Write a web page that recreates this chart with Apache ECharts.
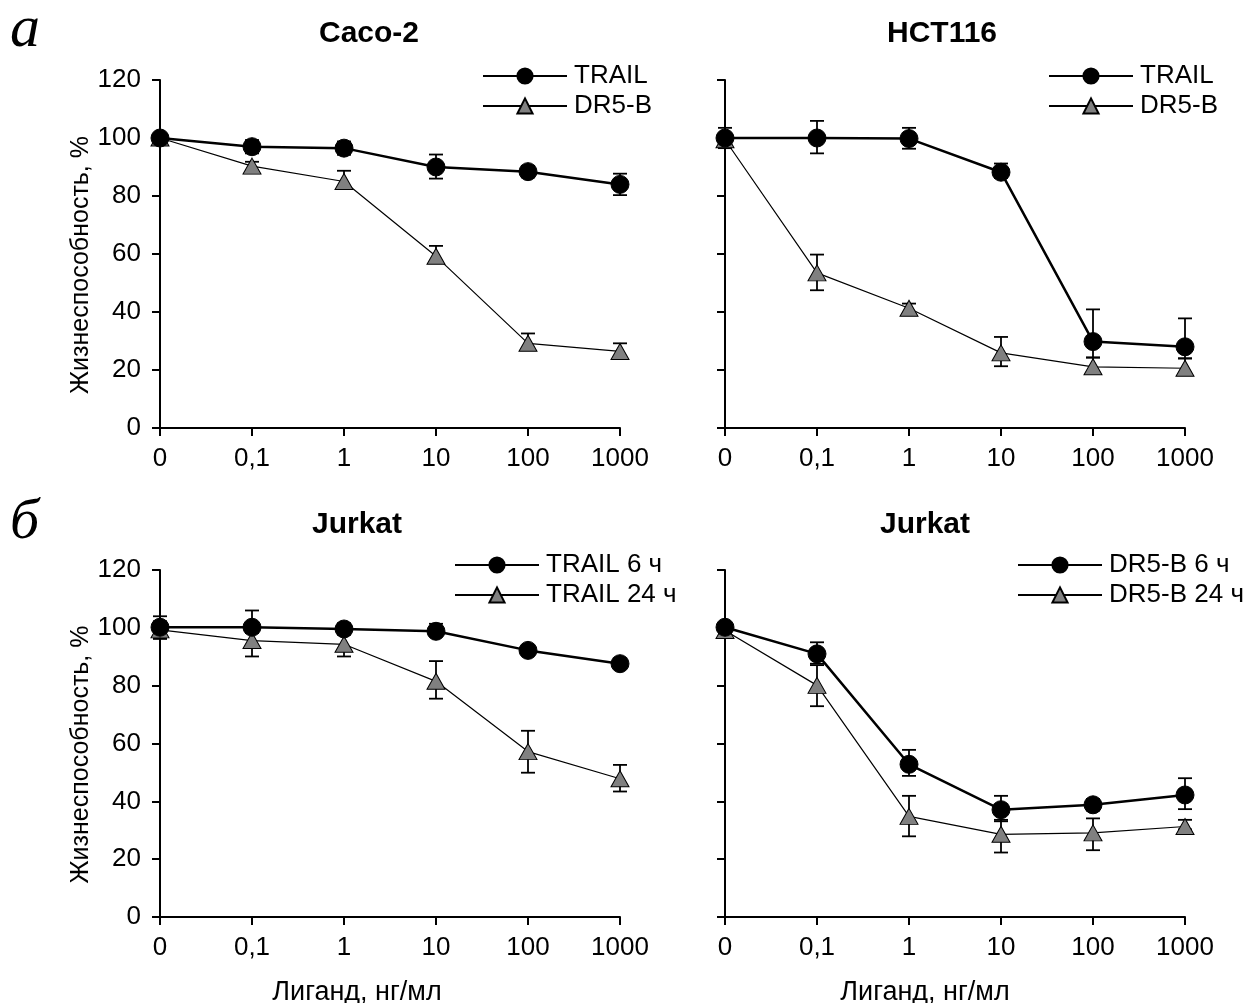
<!DOCTYPE html>
<html>
<head>
<meta charset="utf-8">
<script src="https://cdn.jsdelivr.net/npm/echarts@6/dist/echarts.min.js"></script>
<style>
html,body{margin:0;padding:0;background:#fff;}
#chart{width:1250px;height:1003px;}
</style>
</head>
<body>
<div id="chart"></div>
<script>
// ---------- DATA ----------
const doses = ['0', '0,1', '1', '10', '100', '1000'];
const yTickMin = 0, yTickMax = 120, yTickStep = 20;

// Panel а, Caco-2
const caco2Trail     = [100, 97, 96.5, 90, 88.4, 84];
const caco2TrailUp   = [1, 2.3, 2.3, 4.3, 2, 3.7];
const caco2TrailDown = [1, 2.3, 2.3, 4, 2, 3.7];
const caco2Dr5b      = [100, 90.3, 85, 59.2, 29.2, 26.4];
const caco2Dr5bUp    = [1, 1.5, 3.7, 3.6, 3.4, 2.8];
const caco2Dr5bDown  = [1, 1.5, 0, 0, 0, 0];

// Panel а, HCT116
const hctTrail       = [100, 100, 99.8, 88.2, 29.8, 28];
const hctTrailUp     = [3.5, 5.9, 3.7, 3, 11.1, 9.8];
const hctTrailDown   = [3.5, 5.3, 3.5, 2, 5.5, 4];
const hctDr5b        = [99.4, 53.5, 41.3, 25.9, 21.1, 20.6];
const hctDr5bUp      = [1, 6.3, 1.6, 5.5, 3.2, 3.4];
const hctDr5bDown    = [1, 6, 1.6, 4.6, 0, 0];

// Panel б, Jurkat TRAIL
const jurTrail6      = [100.2, 100.2, 99.6, 98.8, 92.2, 87.6];
const jurTrail6Up    = [3.8, 5.8, 2, 2.6, 1.5, 1];
const jurTrail6Down  = [4, 2, 2, 1.5, 1.5, 1];
const jurTrail24     = [99.3, 95.6, 94.3, 81.5, 57.2, 47.8];
const jurTrail24Up   = [3, 5.5, 4, 7, 7.2, 4.8];
const jurTrail24Down = [3, 5.5, 4.2, 6, 7.3, 4.4];

// Panel б, Jurkat DR5-B
const jurDr6         = [100.2, 91, 52.8, 37.1, 38.8, 42.2];
const jurDr6Up       = [1, 4, 5, 4.8, 2, 5.8];
const jurDr6Down     = [1, 3.4, 4, 4, 2, 4.9];
const jurDr24        = [99.1, 80.1, 34.8, 28.6, 29.1, 31.3];
const jurDr24Up      = [1, 7, 7.1, 5, 5, 2.3];
const jurDr24Down    = [1, 7.2, 6.9, 6.3, 6, 1];

// ---------- CHART ----------
const FONT = 'Liberation Sans, Arial, sans-serif';
const FS = 26;

const grids = [
  {left: 160, top: 80, width: 460, height: 348},
  {left: 725, top: 80, width: 460, height: 348},
  {left: 160, top: 570, width: 460, height: 347},
  {left: 725, top: 570, width: 460, height: 347}
];

function xAxisFor(i) {
  return {
    type: 'category', gridIndex: i, data: doses, boundaryGap: false,
    axisLine: {lineStyle: {color: '#000', width: 2}},
    axisTick: {length: 8, lineStyle: {color: '#000', width: 2}},
    axisLabel: {color: '#000', fontSize: FS, fontFamily: FONT, margin: 18}
  };
}
function yAxisFor(i, withLabels) {
  const ax = {
    type: 'value', gridIndex: i, min: yTickMin, max: yTickMax, interval: yTickStep,
    splitLine: {show: false},
    axisLine: {show: true, lineStyle: {color: '#000', width: 2}},
    axisTick: {show: true, length: 8, lineStyle: {color: '#000', width: 2}},
    axisLabel: {show: withLabels, color: '#000', fontSize: FS, fontFamily: FONT, margin: 19}
  };
  if (withLabels) {
    ax.name = 'Жизнеспособность, %';
    ax.nameLocation = 'middle';
    ax.nameRotate = 90;
    ax.nameGap = 66;
    ax.nameTextStyle = {color: '#000', fontSize: 25, fontFamily: FONT, padding: [0, 22, 0, 0]};
  }
  return ax;
}

function lineSeries(name, gi, vals, thick) {
  return {
    type: 'line', name: name, xAxisIndex: gi, yAxisIndex: gi, data: vals,
    z: 3,
    symbol: thick ? 'circle' : 'triangle',
    symbolSize: thick ? 18 : [18, 16],
    lineStyle: {color: '#000', width: thick ? 2.5 : 1.2},
    itemStyle: thick ? {color: '#000', borderColor: '#000', borderWidth: 1}
                     : {color: '#808080', borderColor: '#000', borderWidth: 1},
    emphasis: {disabled: true},
    animation: false
  };
}

function errRender(params, api) {
  const x = api.value(0), y = api.value(1), up = api.value(2), dn = api.value(3);
  const top = api.coord([x, y + up]);
  const bot = api.coord([x, y - dn]);
  const hw = 7;
  const st = {stroke: '#000', lineWidth: 1.8};
  const ch = [{type: 'line', shape: {x1: top[0], y1: top[1], x2: bot[0], y2: bot[1]}, style: st}];
  if (up > 0) ch.push({type: 'line', shape: {x1: top[0] - hw, y1: top[1], x2: top[0] + hw, y2: top[1]}, style: st});
  if (dn > 0) ch.push({type: 'line', shape: {x1: bot[0] - hw, y1: bot[1], x2: bot[0] + hw, y2: bot[1]}, style: st});
  return {type: 'group', children: ch};
}
function errSeries(gi, vals, up, dn) {
  return {
    type: 'custom', xAxisIndex: gi, yAxisIndex: gi, z: 2,
    renderItem: errRender, silent: true, animation: false,
    encode: {x: 0, y: 1},
    data: vals.map((v, i) => [i, v, up[i], dn[i]])
  };
}

function legendFor(left, top, names) {
  return {
    left: left, top: top, orient: 'vertical', itemWidth: 84, itemHeight: 19, itemGap: 4,
    data: names, selectedMode: false,
    textStyle: {color: '#000', fontSize: FS, fontFamily: FONT, padding: [0, 0, 0, 2]}
  };
}

function titleAt(text, x, y, bold, size) {
  return {text: text, left: x, top: y, textAlign: 'center', padding: 0,
          textStyle: {color: '#000', fontSize: size, fontFamily: FONT, fontWeight: bold ? 'bold' : 'normal'}};
}

const SERIF = 'Liberation Serif, Times New Roman, serif';
const option = {
  backgroundColor: '#fff',
  animation: false,
  title: [
    titleAt('Caco-2', 369, 19, true, 30),
    titleAt('HCT116', 942, 19, true, 30),
    titleAt('Jurkat', 357, 510, true, 30),
    titleAt('Jurkat', 925, 510, true, 30),
    titleAt('Лиганд, нг/мл', 357, 979, false, 27),
    titleAt('Лиганд, нг/мл', 925, 979, false, 27),
    {text: 'а', left: 10, top: 0, padding: 0,
     textStyle: {color: '#000', fontSize: 60, fontFamily: SERIF, fontStyle: 'italic', fontWeight: 'normal'}},
    {text: 'б', left: 10, top: 494, padding: 0,
     textStyle: {color: '#000', fontSize: 58, fontFamily: SERIF, fontStyle: 'italic', fontWeight: 'normal'}}
  ],
  legend: [
    legendFor(477, 58, ['TRAIL', 'DR5-B']),
    legendFor(1043, 58, ['TRAIL', 'DR5-B']),
    legendFor(449, 547, ['TRAIL 6 ч', 'TRAIL 24 ч']),
    legendFor(1012, 547, ['DR5-B 6 ч', 'DR5-B 24 ч'])
  ],
  grid: grids,
  xAxis: [xAxisFor(0), xAxisFor(1), xAxisFor(2), xAxisFor(3)],
  yAxis: [yAxisFor(0, true), yAxisFor(1, false), yAxisFor(2, true), yAxisFor(3, false)],
  series: [
    errSeries(0, caco2Trail, caco2TrailUp, caco2TrailDown),
    errSeries(0, caco2Dr5b, caco2Dr5bUp, caco2Dr5bDown),
    lineSeries('DR5-B', 0, caco2Dr5b, false),
    lineSeries('TRAIL', 0, caco2Trail, true),

    errSeries(1, hctTrail, hctTrailUp, hctTrailDown),
    errSeries(1, hctDr5b, hctDr5bUp, hctDr5bDown),
    lineSeries('DR5-B', 1, hctDr5b, false),
    lineSeries('TRAIL', 1, hctTrail, true),

    errSeries(2, jurTrail6, jurTrail6Up, jurTrail6Down),
    errSeries(2, jurTrail24, jurTrail24Up, jurTrail24Down),
    lineSeries('TRAIL 24 ч', 2, jurTrail24, false),
    lineSeries('TRAIL 6 ч', 2, jurTrail6, true),

    errSeries(3, jurDr6, jurDr6Up, jurDr6Down),
    errSeries(3, jurDr24, jurDr24Up, jurDr24Down),
    lineSeries('DR5-B 24 ч', 3, jurDr24, false),
    lineSeries('DR5-B 6 ч', 3, jurDr6, true)
  ]
};

const chart = echarts.init(document.getElementById('chart'), null, {renderer: 'canvas'});
chart.setOption(option);
</script>
</body>
</html>
